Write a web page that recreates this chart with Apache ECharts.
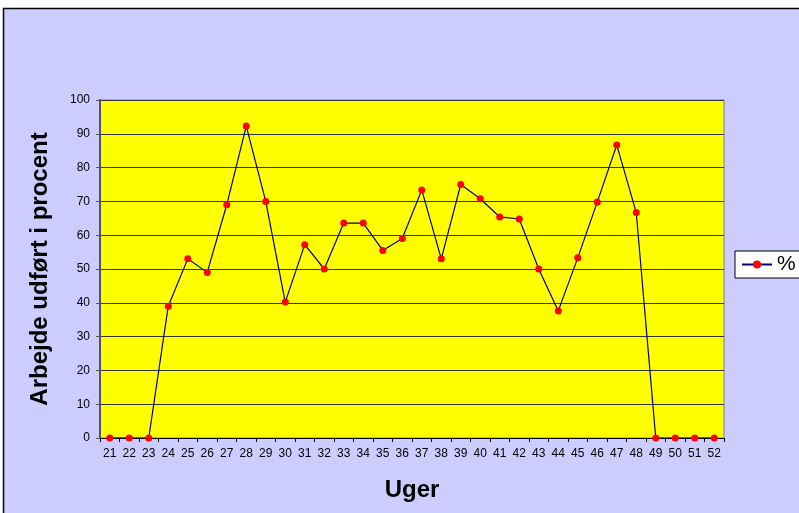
<!DOCTYPE html>
<html>
<head>
<meta charset="utf-8">
<script src="https://cdn.jsdelivr.net/npm/echarts@6/dist/echarts.min.js"></script>
<style>
html,body{margin:0;padding:0;background:#fff;}
#c{width:799px;height:513px;}
</style>
</head>
<body>
<div id="c"></div>
<script>
const weeks = ['21','22','23','24','25','26','27','28','29','30','31','32','33','34','35','36','37','38','39','40','41','42','43','44','45','46','47','48','49','50','51','52'];
const percent = [0,0,0,39,53,49,69,92.3,70,40.2,57.2,50,63.6,63.6,55.5,59,73.4,53,75,70.8,65.4,64.8,50,37.6,53.3,69.8,86.7,66.7,0,0,0,0];
const yTicks = {min:0, max:100, interval:10};
const seriesName = '%';
const xTitle = 'Uger';
const yTitle = 'Arbejde udført i procent';

const chart = echarts.init(document.getElementById('c'), null, {renderer:'canvas'});
const font = 'Arial, "Liberation Sans", sans-serif';
chart.setOption({
  backgroundColor:'#ffffff',
  animation:false,
  graphic:[{
    type:'rect', z:-10, silent:true,
    shape:{x:3.5, y:8.5, width:820, height:520},
    style:{fill:'#CCCCFF', stroke:'#000000', lineWidth:1.5}
  }],
  grid:{left:100, right:75, top:100, bottom:75, show:true, backgroundColor:'#FFFF00', borderColor:'#808080', borderWidth:1, containLabel:false, outerBoundsMode:'none'},
  legend:{
    show:true, left:735, top:251,
    backgroundColor:'#ffffff', borderColor:'#000000', borderWidth:1,
    padding:[3,30,3,6], itemWidth:30, itemHeight:10, itemGap:6,
    textStyle:{fontFamily:font, fontSize:21, color:'#000'},
    data:[seriesName]
  },
  xAxis:{
    type:'category', data:weeks, boundaryGap:true,
    name:xTitle, nameLocation:'middle', nameGap:40,
    nameTextStyle:{fontFamily:font, fontSize:24, fontWeight:'bold', color:'#000'},
    axisLine:{lineStyle:{color:'#000', width:1}},
    axisTick:{show:true, length:4, lineStyle:{color:'#000'}},
    axisLabel:{fontFamily:font, fontSize:12, color:'#000', margin:10, interval:0},
    splitLine:{show:false}
  },
  yAxis:{
    type:'value', min:yTicks.min, max:yTicks.max, interval:yTicks.interval,
    name:yTitle, nameLocation:'middle', nameGap:48, nameRotate:90,
    nameTextStyle:{fontFamily:font, fontSize:24, fontWeight:'bold', color:'#000'},
    axisLine:{show:true, lineStyle:{color:'#555', width:2}},
    axisTick:{show:true, length:4, lineStyle:{color:'#555'}},
    axisLabel:{fontFamily:font, fontSize:12, color:'#000', margin:10},
    splitLine:{show:true, lineStyle:{color:'#333', width:1}}
  },
  series:[{
    name:seriesName, type:'line', data:percent,
    symbol:'circle', symbolSize:7,
    itemStyle:{color:'#FF0000', borderWidth:0},
    lineStyle:{color:'#000080', width:1.2},
    emphasis:{disabled:true}
  }]
});
</script>
</body>
</html>
